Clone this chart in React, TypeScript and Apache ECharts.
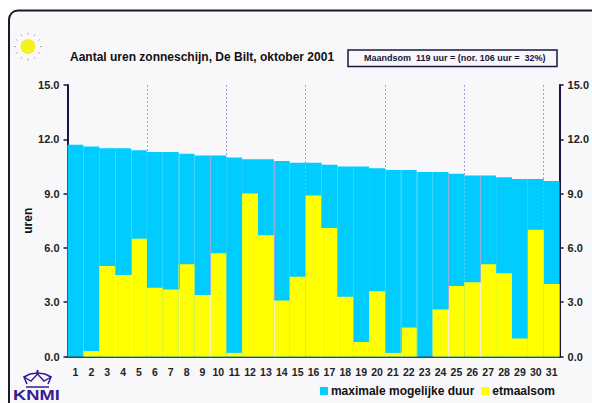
import React, { useEffect, useRef } from "react";
import * as echarts from "echarts";

const days = Array.from({ length: 31 }, (_, i) => String(i + 1));
const maxDuration = [11.7, 11.6, 11.5, 11.5, 11.4, 11.3, 11.3, 11.2, 11.1, 11.1, 11.0, 10.9, 10.9, 10.8, 10.7, 10.7, 10.6, 10.5, 10.5, 10.4, 10.3, 10.3, 10.2, 10.2, 10.1, 10.0, 10.0, 9.9, 9.8, 9.8, 9.7];
const dailySum = [0.0, 0.3, 5.0, 4.5, 6.5, 3.8, 3.7, 5.1, 3.4, 5.7, 0.2, 9.0, 6.7, 3.1, 4.4, 8.9, 7.1, 3.3, 0.8, 3.6, 0.2, 1.6, 0.0, 2.6, 3.9, 4.1, 5.1, 4.6, 1.0, 7.0, 4.0];
const seamDays = [3, 4, 7, 9, 13, 16, 17, 20, 21, 22, 24, 26];
const yTicks = { min: 0, max: 15, interval: 3 };
const FONT = "'Liberation Sans', Arial, sans-serif";
const INK = "#1a1440";
const PURPLE = "#3b1a8f";
const PANEL = "#f8f8fa";

const sunRays = [0, 30, 60, 90, 120, 150, 180, 210, 240, 270, 300, 330];

export default function App() {
  const ref = useRef<HTMLDivElement>(null);
  useEffect(() => {
    const chart = echarts.init(ref.current!, null, { renderer: "svg" });
    const yAxisBase = {
      type: "value", min: yTicks.min, max: yTicks.max, interval: yTicks.interval,
      axisLine: { show: true, lineStyle: { color: INK, width: 2 } },
      axisTick: { show: true, length: 4, lineStyle: { color: INK, width: 1.5 } },
      axisLabel: { color: "#222", fontSize: 11, fontWeight: "bold", fontFamily: FONT, margin: 8, formatter: (v: number) => v.toFixed(1) },
      splitLine: { show: false },
    };
    chart.setOption({
      animation: false,
      backgroundColor: "#ffffff",
      grid: { left: 67.5, right: 31, top: 85, bottom: 46.5 },
      title: {
        text: "Aantal uren zonneschijn, De Bilt, oktober 2001",
        left: 65, top: 46,
        textStyle: { color: "#111", fontSize: 12, fontWeight: "bold", fontFamily: FONT },
      },
      legend: {
        right: 32, top: 380, itemWidth: 8, itemHeight: 8, itemGap: 7,
        icon: "rect",
        textStyle: { color: "#111", fontSize: 12, fontWeight: "bold", fontFamily: FONT, padding: [0, 0, 0, -2] },
        data: ["maximale mogelijke duur", "etmaalsom"],
      },
      xAxis: [
        {
          type: "category", data: days, boundaryGap: true,
          axisLine: { show: true, lineStyle: { color: "#111", width: 2 } },
          axisTick: { show: true, inside: true, length: 4, alignWithLabel: false, interval: (i: number) => i % 5 === 0 && i > 0, lineStyle: { color: "#111", width: 1.5 } },
          axisLabel: { color: "#222", fontSize: 10.5, fontWeight: "bold", fontFamily: FONT, margin: 10, interval: 0 },
          splitLine: { show: true, interval: (i: number) => i % 5 === 0 && i > 0, lineStyle: { color: "#a79ad6", width: 1, type: [2, 2] } },
        },
        {
          type: "category", data: days, position: "top",
          axisLine: { show: true, lineStyle: { color: "#444", width: 2 } },
          axisTick: { show: false }, axisLabel: { show: false }, splitLine: { show: false },
        },
      ],
      yAxis: [
        { ...yAxisBase, name: "uren", nameLocation: "middle", nameGap: 34, nameMoveOverlap: false, nameRotate: 90, nameTextStyle: { color: "#111", fontSize: 12, fontWeight: "bold", fontFamily: FONT } },
        { ...yAxisBase, position: "right" },
      ],
      series: [
        { name: "maximale mogelijke duur", type: "bar", data: maxDuration, barWidth: "100%", barGap: "-100%", itemStyle: { color: "#00ccff" }, z: 2 },
        { name: "etmaalsom", type: "bar", data: dailySum, barWidth: "100%", barGap: "-100%", itemStyle: { color: "#ffff00" }, z: 3 },
        {
          name: "seams", type: "custom", silent: true, z: 4,
          data: seamDays.map((d) => [d - 1, Math.min(dailySum[d - 1], dailySum[d]), Math.min(maxDuration[d - 1], maxDuration[d])]),
          encode: { x: 0, y: [1, 2] },
          renderItem: (_: any, api: any) => {
            const band = api.size([1, 0])[0];
            const x = Math.round(api.coord([api.value(0), 0])[0] + band / 2) + 0.5;
            const y0 = api.coord([api.value(0), 0])[1];
            const yLow = api.coord([api.value(0), api.value(1)])[1];
            const yTop = api.coord([api.value(0), api.value(2)])[1];
            return {
              type: "group",
              children: [
                { type: "line", shape: { x1: x, y1: y0, x2: x, y2: yLow }, style: { stroke: "#f4f4c8", lineWidth: 1 } },
                { type: "line", shape: { x1: x, y1: yLow, x2: x, y2: yTop }, style: { stroke: "#8fb0e0", lineWidth: 1 } },
              ],
            };
          },
        },
      ],
      graphic: [
        { type: "rect", z: -10, silent: true, shape: { x: 9, y: 10.5, width: 640, height: 440, r: 9 }, style: { fill: PANEL, stroke: "#1a1a2a", lineWidth: 2 } },
        { type: "rect", z: 1, silent: true, shape: { x: 348, y: 50, width: 209, height: 16.5 }, style: { fill: PANEL, stroke: INK, lineWidth: 1.5 } },
        { type: "text", z: 2, silent: true, style: { x: 364, y: 53, text: "Maandsom  119 uur = (nor. 106 uur =  32%)", fill: INK, font: `bold 9px ${FONT}` } },
        { type: "circle", z: 2, silent: true, shape: { cx: 28, cy: 46.5, r: 7.5 }, style: { fill: "#f5f020" } },
        ...sunRays.map((a) => {
          const c = Math.cos((a * Math.PI) / 180), s = Math.sin((a * Math.PI) / 180);
          return { type: "line", z: 1, silent: true, shape: { x1: 28 + 12 * c, y1: 46.5 + 12 * s, x2: 28 + 14 * c, y2: 46.5 + 14 * s }, style: { stroke: "#a8a8bc", lineWidth: 1 } };
        }),
        { type: "text", z: 2, silent: true, x: 13, y: 388, scaleX: 1.22, style: { x: 0, y: 0, text: "KNMI", fill: PURPLE, font: `bold 15px ${FONT}` } },
        { type: "polyline", z: 2, silent: true, shape: { points: [[27, 384], [24, 377], [30, 374], [37.5, 373], [45, 374], [51, 377], [48, 384]] }, style: { fill: "none", stroke: PURPLE, lineWidth: 1.6 } },
        { type: "polyline", z: 2, silent: true, shape: { points: [[24, 377], [31, 381], [37.5, 374], [44, 381], [51, 377]] }, style: { fill: "none", stroke: PURPLE, lineWidth: 1.4 } },
        { type: "line", z: 2, silent: true, shape: { x1: 37.5, y1: 370, x2: 37.5, y2: 374 }, style: { stroke: PURPLE, lineWidth: 2 } },
        { type: "line", z: 2, silent: true, shape: { x1: 26, y1: 387, x2: 49, y2: 387 }, style: { stroke: PURPLE, lineWidth: 1.5 } },
      ],
    });
    return () => chart.dispose();
  }, []);
  return <div ref={ref} style={{ position: "fixed", left: 0, top: 0, width: 592, height: 403 }} />;
}
